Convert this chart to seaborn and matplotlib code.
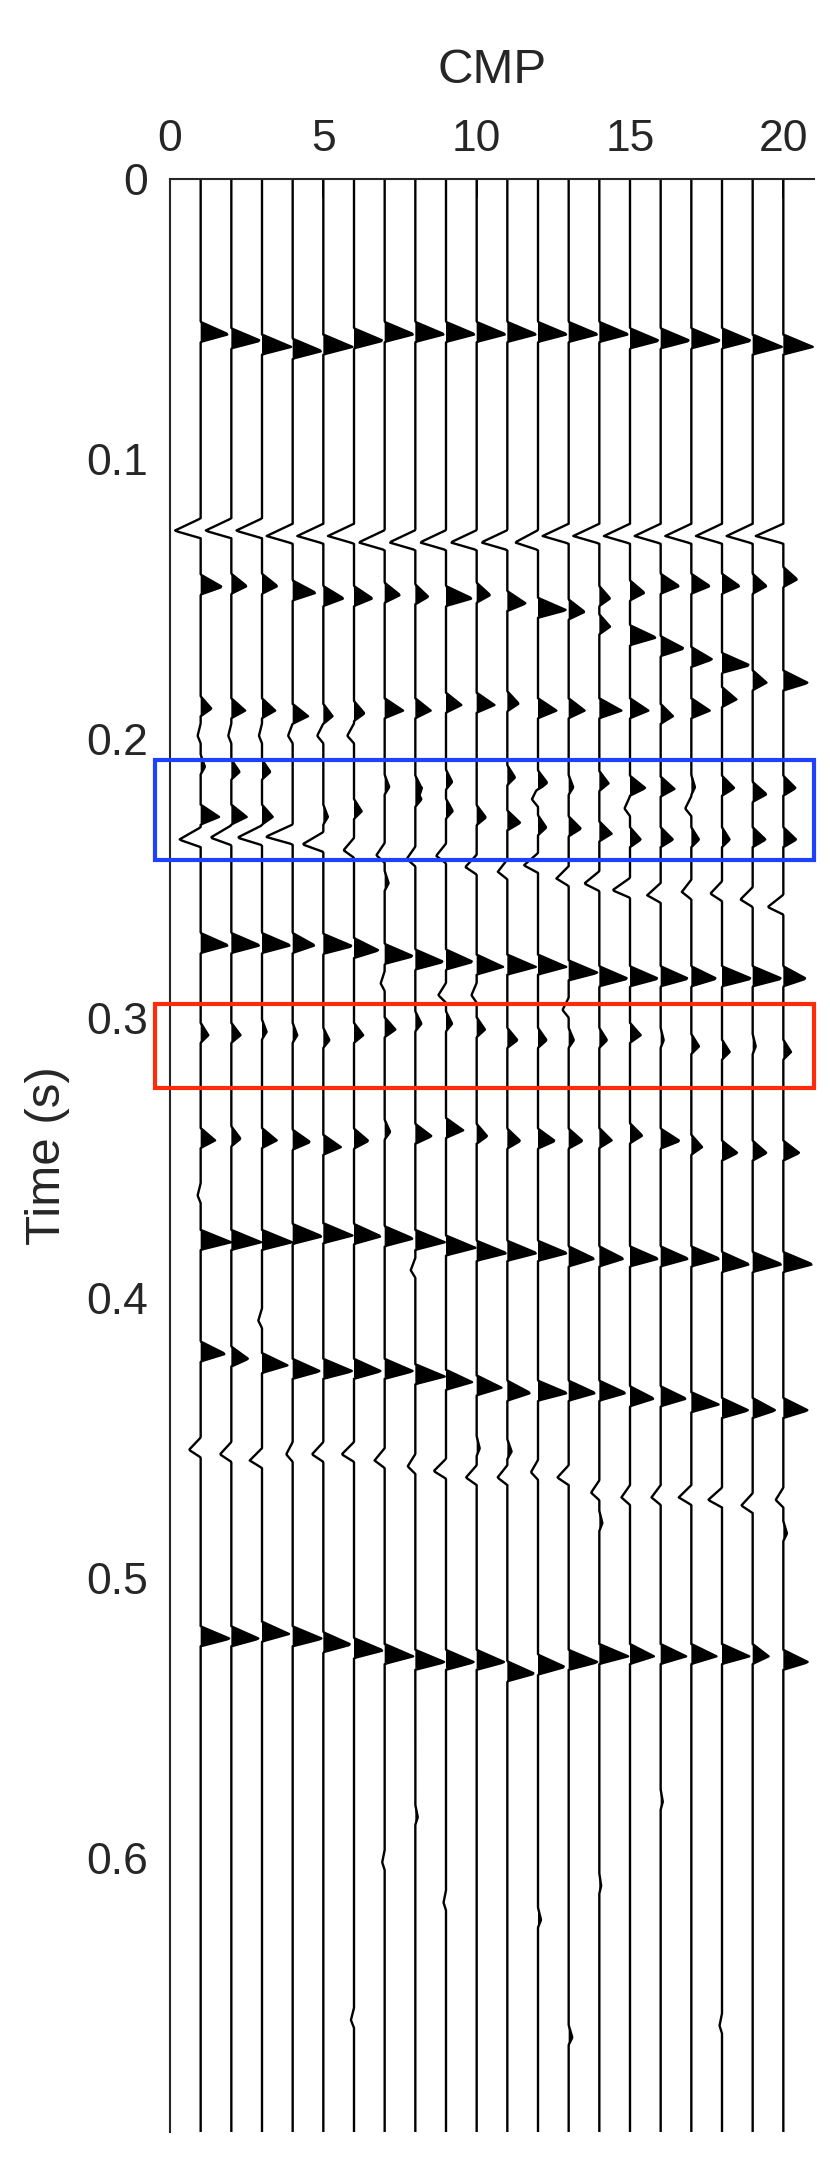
import numpy as np
import pandas as pd
import seaborn as sns
import matplotlib.pyplot as plt
from matplotlib.patches import Rectangle

# CMP positions of the 20 traces
cmp = np.arange(1, 21)

# main reflection events, picked per trace (time in s, amplitude in trace units)
ev_a_t = [0.0555, 0.0578, 0.0600, 0.0615, 0.0600, 0.0578, 0.0555, 0.0555, 0.0555, 0.0555,
          0.0555, 0.0555, 0.0555, 0.0555, 0.0578, 0.0578, 0.0578, 0.0578, 0.0600, 0.0600]
ev_a_amp = [0.90, 0.95, 0.95, 0.95, 0.95, 0.95, 0.95, 0.95, 0.95, 0.95,
            0.95, 0.95, 0.95, 0.95, 0.95, 0.95, 0.95, 0.95, 0.95, 0.96]

ev_b_t = [0.1257, 0.1257, 0.1257, 0.1276, 0.1276, 0.1276, 0.1299, 0.1299, 0.1299, 0.1299,
          0.1299, 0.1299, 0.1276, 0.1276, 0.1276, 0.1276, 0.1276, 0.1276, 0.1276, 0.1276]
ev_b_amp = [-0.85, -0.85, -0.85, -0.85, -0.85, -0.85, -0.85, -0.85, -0.85, -0.85,
            -0.85, -0.75, -0.85, -0.85, -0.85, -0.85, -0.85, -0.85, -0.85, -0.90]

ev_c_t = [0.1458, 0.1455, 0.1455, 0.1479, 0.1499, 0.1499, 0.1487, 0.1493, 0.1499, 0.1487,
          0.1517, 0.1541, 0.1547, 0.1499, 0.1479, 0.1455, 0.1455, 0.1455, 0.1455, 0.1431]
ev_c_amp = [0.70, 0.50, 0.50, 0.75, 0.66, 0.60, 0.50, 0.42, 0.85, 0.44,
            0.60, 0.92, 0.52, 0.35, 0.47, 0.60, 0.60, 0.57, 0.45, 0.45]

ev_d_t = [0.1893, 0.1900, 0.1900, 0.1920, 0.1920, 0.1910, 0.1900, 0.1900, 0.1880, 0.1880,
          0.1875, 0.1900, 0.1900, 0.1900, 0.1900, 0.1920, 0.1900, 0.1860, 0.1800, 0.1801]
ev_d_amp = [0.35, 0.45, 0.43, 0.50, 0.30, 0.34, 0.60, 0.50, 0.50, 0.58,
            0.37, 0.60, 0.52, 0.72, 0.60, 0.40, 0.60, 0.47, 0.45, 0.80]

ev_e_t = [0.2361, 0.2354, 0.2354, 0.2351, 0.2378, 0.2399, 0.2417, 0.2430, 0.2419, 0.2459,
          0.2476, 0.2453, 0.2500, 0.2518, 0.2542, 0.2560, 0.2548, 0.2554, 0.2575, 0.2602]
ev_e_amp = [-0.70, -0.68, -0.80, -0.88, -0.68, -0.34, -0.27, -0.28, -0.32, -0.37,
            -0.31, -0.46, -0.40, -0.49, -0.57, -0.44, -0.31, -0.38, -0.40, -0.51]

ev_f_t = [0.2739, 0.2739, 0.2739, 0.2739, 0.2742, 0.2757, 0.2778, 0.2798, 0.2798, 0.2816,
          0.2816, 0.2816, 0.2837, 0.2858, 0.2858, 0.2858, 0.2858, 0.2858, 0.2858, 0.2858]
ev_f_amp = [0.90, 0.93, 0.93, 0.72, 0.95, 0.80, 0.93, 0.92, 0.88, 0.86,
            0.93, 0.92, 0.95, 0.93, 0.92, 0.90, 0.82, 0.96, 0.95, 0.74]

ev_g_t = [0.3060, 0.3060, 0.3048, 0.3060, 0.3078, 0.3060, 0.3040, 0.3019, 0.3019, 0.3040,
          0.3078, 0.3078, 0.3078, 0.3078, 0.3060, 0.3078, 0.3100, 0.3120, 0.3100, 0.3120]
ev_g_amp = [0.25, 0.30, 0.15, 0.15, 0.20, 0.30, 0.35, 0.20, 0.20, 0.27,
            0.33, 0.28, 0.17, 0.25, 0.35, 0.10, 0.25, 0.25, 0.10, 0.25]

ev_h_t = [0.3436, 0.3430, 0.3436, 0.3442, 0.3460, 0.3438, 0.3406, 0.3421, 0.3400, 0.3421,
          0.3438, 0.3438, 0.3438, 0.3436, 0.3419, 0.3438, 0.3460, 0.3481, 0.3481, 0.3481]
ev_h_amp = [0.47, 0.30, 0.48, 0.57, 0.57, 0.47, 0.18, 0.53, 0.56, 0.34,
            0.42, 0.55, 0.45, 0.40, 0.40, 0.62, 0.35, 0.50, 0.45, 0.52]

ev_i_t = [0.3800, 0.3800, 0.3800, 0.3779, 0.3776, 0.3779, 0.3787, 0.3800, 0.3820, 0.3839,
          0.3839, 0.3839, 0.3859, 0.3859, 0.3859, 0.3859, 0.3859, 0.3879, 0.3879, 0.3879]
ev_i_amp = [0.99, 0.97, 0.98, 0.96, 0.95, 0.88, 0.93, 0.96, 0.96, 0.98,
            0.96, 0.95, 0.84, 0.79, 0.92, 0.90, 0.92, 0.89, 0.95, 0.95]

ev_j_t = [0.4199, 0.4217, 0.4240, 0.4261, 0.4261, 0.4261, 0.4261, 0.4280, 0.4300, 0.4320,
          0.4339, 0.4339, 0.4339, 0.4339, 0.4359, 0.4359, 0.4380, 0.4401, 0.4401, 0.4401]
ev_j_amp = [0.80, 0.55, 0.83, 0.89, 0.95, 0.88, 0.93, 0.96, 0.85, 0.81,
            0.75, 0.95, 0.87, 0.86, 0.78, 0.83, 0.89, 0.86, 0.74, 0.80]

ev_k_t = [0.4542, 0.4558, 0.4580, 0.4558, 0.4558, 0.4558, 0.4580, 0.4601, 0.4618, 0.4641,
          0.4641, 0.4622, 0.4641, 0.4695, 0.4712, 0.4712, 0.4712, 0.4721, 0.4741, 0.4721]
ev_k_amp = [-0.38, -0.37, -0.40, -0.21, -0.37, -0.40, -0.33, -0.25, -0.40, -0.35,
            -0.32, -0.23, -0.37, -0.27, -0.28, -0.30, -0.41, -0.45, -0.37, -0.25]

ev_l_t = [0.5217, 0.5217, 0.5200, 0.5217, 0.5238, 0.5259, 0.5280, 0.5301, 0.5301, 0.5301,
          0.5342, 0.5318, 0.5301, 0.5280, 0.5280, 0.5280, 0.5280, 0.5280, 0.5280, 0.5301]
ev_l_amp = [0.95, 0.90, 0.88, 0.96, 0.90, 0.95, 0.93, 0.96, 0.92, 0.91,
            0.89, 0.88, 0.95, 0.94, 0.78, 0.83, 0.82, 0.89, 0.52, 0.81]

# weaker arrivals: (trace, time, amplitude)
minor_trace = [14, 15, 16, 17, 18, 1, 2, 3, 4, 5, 6,
               1, 2, 3, 7, 8, 8, 9, 11, 12, 13, 14, 15, 16, 17, 18, 19, 20,
               1, 2, 3, 5, 6, 9, 10, 11, 12, 13, 14, 15, 16, 17, 18, 19, 20,
               12, 15, 17, 7, 7, 9, 10, 13, 1, 8, 3, 10, 11, 14, 20,
               8, 7, 9, 12, 6, 13, 18, 16, 14]
minor_time = [0.1600, 0.1639, 0.1678, 0.1717, 0.1738, 0.1990, 0.1990, 0.1990, 0.1990, 0.1990, 0.1990,
              0.2101, 0.2119, 0.2119, 0.2173, 0.2176, 0.2217, 0.2155, 0.2139, 0.2158, 0.2174, 0.2160,
              0.2177, 0.2180, 0.2174, 0.2177, 0.2199, 0.2177,
              0.2280, 0.2280, 0.2280, 0.2280, 0.2260, 0.2259, 0.2282, 0.2301, 0.2318, 0.2322, 0.2340,
              0.2361, 0.2361, 0.2361, 0.2361, 0.2361, 0.2361,
              0.2217, 0.2250, 0.2250, 0.2517, 0.2875, 0.2917, 0.2917, 0.2970, 0.3633, 0.3900,
              0.4080, 0.4537, 0.4548, 0.4804, 0.4841,
              0.5855, 0.6016, 0.6160, 0.6222, 0.6580, 0.6642, 0.6600, 0.5800, 0.6100]
minor_amp = [0.35, 0.85, 0.76, 0.68, 0.90, -0.10, -0.10, -0.10, -0.15, -0.20, -0.22,
             0.14, 0.27, 0.27, 0.15, 0.20, 0.20, 0.20, 0.25, 0.30, 0.15, 0.30,
             0.50, 0.45, 0.12, 0.40, 0.45, 0.40,
             0.60, 0.50, 0.35, 0.15, 0.25, 0.22, 0.30, 0.42, 0.27, 0.40, 0.40,
             0.35, 0.40, 0.25, 0.25, 0.42, 0.42,
             -0.20, -0.18, -0.20, 0.13, -0.13, -0.25, -0.17, -0.20, -0.10, -0.15,
             -0.12, 0.10, 0.14, 0.10, 0.12,
             0.08, -0.08, -0.08, 0.10, -0.10, 0.12, -0.08, 0.07, 0.06]

events_t = [ev_a_t, ev_b_t, ev_c_t, ev_d_t, ev_e_t, ev_f_t, ev_g_t, ev_h_t, ev_i_t, ev_j_t, ev_k_t, ev_l_t]
events_amp = [ev_a_amp, ev_b_amp, ev_c_amp, ev_d_amp, ev_e_amp, ev_f_amp, ev_g_amp, ev_h_amp,
              ev_i_amp, ev_j_amp, ev_k_amp, ev_l_amp]

# boxes marking the windows (time ranges)
blue_box = (0.2075, 0.2434)
red_box = (0.2950, 0.3249)

time = np.arange(0, 0.6985, 0.0004)


def spike(dt):
    # sharp spike: short rise, shorter fall
    w = np.where(dt < 0, 1 + dt / 0.0044, 1 - dt / 0.0027)
    return np.clip(w, 0, None)


traces = np.zeros((len(cmp), len(time)))
for et, ea in zip(events_t, events_amp):
    for i in range(len(cmp)):
        traces[i] += ea[i] * spike(time - et[i])
for tr, tt, aa in zip(minor_trace, minor_time, minor_amp):
    traces[tr - 1] += aa * spike(time - tt)

rows = []
for i, c in enumerate(cmp):
    rows.append(pd.DataFrame({'cmp': c, 'time': time, 'x': c + traces[i]}))
df = pd.concat(rows, ignore_index=True)

sns.set_style('white')
plt.rcParams['font.family'] = ['Liberation Sans', 'DejaVu Sans']

fig = plt.figure(figsize=(8.3, 21.72), dpi=100)
ax = fig.add_axes([170 / 830, 1 - 2132 / 2172, (814 - 170) / 830, (2132 - 179) / 2172])

sns.lineplot(data=df, x='x', y='time', units='cmp', estimator=None, sort=False,
             color='black', lw=1.7, ax=ax, legend=False)
for i, c in enumerate(cmp):
    ax.fill_betweenx(time, c, c + traces[i], where=traces[i] > 0, color='black', lw=0)

for (t0, t1), col in [(blue_box, '#1e40ff'), (red_box, '#ff2a0a')]:
    ax.add_patch(Rectangle((-0.5, t0), 21.5, t1 - t0, fill=False, ec=col, lw=3, clip_on=False, zorder=5))

ax.set_xlim(0, 21)
ax.set_ylim(0.698, 0)
ax.xaxis.set_ticks_position('top')
ax.xaxis.set_label_position('top')
ax.set_xticks([0, 5, 10, 15, 20])
ax.set_yticks([0, 0.1, 0.2, 0.3, 0.4, 0.5, 0.6])
ax.set_yticklabels(['0', '0.1', '0.2', '0.3', '0.4', '0.5', '0.6'])
ax.tick_params(direction='in', length=14, width=1.4, colors='#262626', labelsize=32)
ax.tick_params(axis='x', pad=14)
ax.tick_params(axis='y', pad=16)
ax.set_xlabel('CMP', fontsize=35.5, color='#262626')
ax.set_ylabel('Time (s)', fontsize=35.5, color='#262626')
ax.xaxis.set_label_coords(0.5, 1.049)
ax.yaxis.set_label_coords(-0.155, 0.5)
for s in ['right', 'bottom']:
    ax.spines[s].set_visible(False)
for s in ['top', 'left']:
    ax.spines[s].set_color('#262626')
    ax.spines[s].set_linewidth(1.5)

fig.savefig('out.png', dpi=100)
